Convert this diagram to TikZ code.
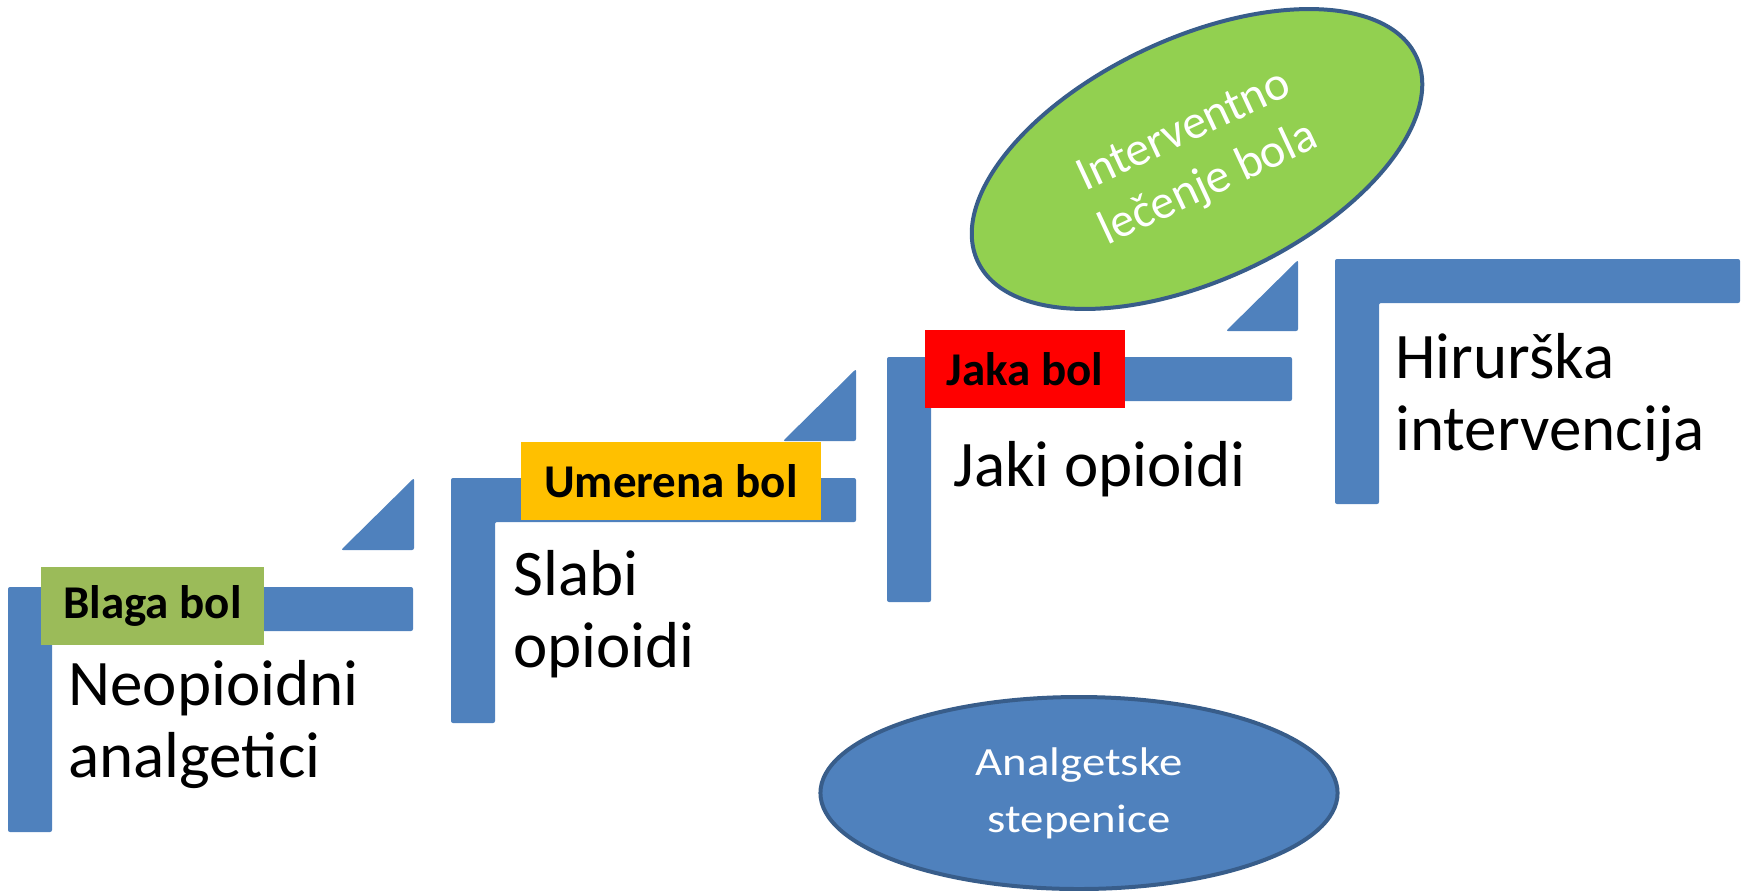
\documentclass[tikz,border=0pt]{standalone}
\usepackage{fontspec}
\setmainfont{Carlito}
\usetikzlibrary{shapes.geometric}

\definecolor{stairblue}{HTML}{4F81BD}
\definecolor{rimblue}{HTML}{385D8A}
\definecolor{mildgreen}{HTML}{9BBB59}
\definecolor{midorange}{HTML}{FFC000}
\definecolor{strongred}{HTML}{FF0000}
\definecolor{leafgreen}{HTML}{92D050}

\begin{document}
\begin{tikzpicture}[x=0.5pt, y=-0.5pt,
    stair/.style={fill=stairblue, rounded corners=1pt},
    painbox/.style={minimum width=#1, minimum height=39pt, inner sep=0pt,
        font=\fontsize{23.5}{28}\selectfont\bfseries},
    drug/.style={anchor=base west, align=left, inner sep=0pt,
        font=\fontsize{32.5}{36}\selectfont},
    bubble/.style={ellipse, draw=rimblue, line width=2pt, text=white,
        align=center, inner sep=0pt}]
    \useasboundingbox (0,0) rectangle (1748,890);

    % The four stairs
    \fill[stair] (8,587) -- ++(405,0) -- ++(0,44) -- ++(-361,0) -- ++(0,201) -- ++(-44,0) -- cycle;
    \fill[stair] (451,478) -- ++(405,0) -- ++(0,44) -- ++(-361,0) -- ++(0,201) -- ++(-44,0) -- cycle;
    \fill[stair] (887,357) -- ++(405,0) -- ++(0,44) -- ++(-361,0) -- ++(0,201) -- ++(-44,0) -- cycle;
    \fill[stair] (1335,259) -- ++(405,0) -- ++(0,44) -- ++(-361,0) -- ++(0,201) -- ++(-44,0) -- cycle;

    % Wedges between the stairs
    \fill[stair] (414,478) -- (414,550) -- (341,550) -- cycle;
    \fill[stair] (856,369) -- (856,441) -- (783,441) -- cycle;
    \fill[stair] (1298,260) -- (1298,331) -- (1226,331) -- cycle;

    % Pain levels
    \node[painbox=111.5pt, fill=mildgreen] (blaga) at (152.5,606) {Blaga bol};
    \node[painbox=150pt, fill=midorange] (umerena) at (671,481) {Umerena bol};
    \node[painbox=100pt, fill=strongred] (jaka) at (1025,369) {Jaka bol};

    % Therapy on each stair (base = last line)
    \node[drug] (neo) at (68,777) {Neopioidni\\analgetici};
    \node[drug] (slabi) at (513,667) {Slabi\\opioidi};
    \node[drug] (jaki) at (953,486) {Jaki opioidi};
    \node[drug] (hir) at (1395,450) {Hirurška\\intervencija};

    % Ellipses
    \node[bubble, fill=leafgreen, rotate=25, minimum width=242pt, minimum height=121pt,
        font=\fontsize{24}{29.25}\selectfont] (interv) at (1197,159) {Interventno\\lečenje bola};
    \node[bubble, fill=stairblue, xscale=1.17, transform shape, minimum width=221pt,
        minimum height=96pt, font=\fontsize{20}{28.5}\selectfont] (stepen) at (1079,793) {Analgetske\\stepenice};
\end{tikzpicture}
\end{document}
